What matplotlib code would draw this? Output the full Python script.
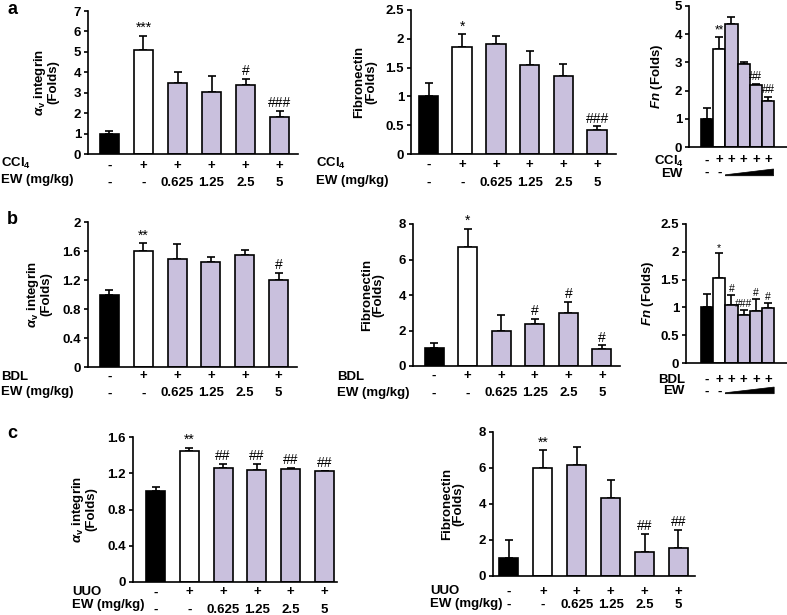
import matplotlib
matplotlib.use("Agg")
import matplotlib.pyplot as plt
from matplotlib.patches import Polygon
import matplotlib.transforms as mtransforms

plt.rcParams['font.family'] = ['Liberation Sans', 'DejaVu Sans']
plt.rcParams['font.weight'] = 'bold'
plt.rcParams['axes.labelweight'] = 'bold'
plt.rcParams['mathtext.fontset'] = 'custom'
plt.rcParams['mathtext.rm'] = 'Liberation Sans:bold'
plt.rcParams['mathtext.bf'] = 'Liberation Sans:bold'
plt.rcParams['mathtext.it'] = 'Liberation Sans:italic'
plt.rcParams['mathtext.bfit'] = 'Liberation Sans:bold:italic'

# ---- data ----
colors = ['black', 'white', '#c9c0dd', '#c9c0dd', '#c9c0dd', '#c9c0dd']
treat_plus = ['-', '+', '+', '+', '+', '+']
dose_labels = ['-', '-', '0.625', '1.25', '2.5', '5']

a_itg = [1.0, 5.1, 3.5, 3.05, 3.4, 1.83]
a_itg_err = [0.12, 0.7, 0.5, 0.75, 0.27, 0.27]
a_itg_sig = ['', '***', '', '', '#', '###']

a_fn = [1.0, 1.86, 1.91, 1.54, 1.36, 0.42]
a_fn_err = [0.24, 0.22, 0.14, 0.24, 0.2, 0.06]
a_fn_sig = ['', '*', '', '', '', '###']

a_fnm = [1.0, 3.48, 4.37, 2.93, 2.19, 1.63]
a_fnm_err = [0.4, 0.43, 0.24, 0.08, 0.04, 0.15]
a_fnm_sig = ['', '**', '', '', '##', '##']

b_itg = [1.0, 1.6, 1.49, 1.45, 1.54, 1.2]
b_itg_err = [0.06, 0.11, 0.2, 0.07, 0.08, 0.1]
b_itg_sig = ['', '**', '', '', '', '#']

b_fn = [1.0, 6.72, 1.98, 2.39, 2.96, 0.93]
b_fn_err = [0.28, 1.0, 0.88, 0.25, 0.66, 0.24]
b_fn_sig = ['', '*', '', '#', '#', '#']

b_fnm = [1.0, 1.53, 1.04, 0.87, 0.94, 0.99]
b_fnm_err = [0.25, 0.44, 0.19, 0.09, 0.21, 0.09]
b_fnm_sig = ['', '*', '#', '###', '#', '#']

c_itg = [1.0, 1.45, 1.26, 1.24, 1.25, 1.22]
c_itg_err = [0.05, 0.03, 0.04, 0.06, 0.01, 0.01]
c_itg_sig = ['', '**', '##', '##', '##', '##']

c_fn = [1.0, 6.0, 6.19, 4.32, 1.34, 1.56]
c_fn_err = [1.0, 1.0, 1.0, 1.0, 1.0, 1.0]
c_fn_sig = ['', '**', '', '', '##', '##']

W, H = 787, 615
fig = plt.figure(figsize=(W / 100, H / 100), dpi=100)
FS = 9.5


def make_ax(left, top, right, bottom):
    return fig.add_axes([left / W, 1 - bottom / H, (right - left) / W, (bottom - top) / H])


def bar_panel(box, vals, errs, sig, xlim, width, ylim, yticks, yticklabels,
              ylabel, labelpad=4, lw=1.2, sig_fs=10):
    ax = make_ax(*box)
    x = list(range(len(vals)))
    ax.bar(x, vals, width=width, color=colors, edgecolor='black', linewidth=lw, zorder=2)
    ax.errorbar(x, vals, yerr=[[0] * len(vals), errs], fmt='none', ecolor='black',
                elinewidth=1.2, capsize=2.6, capthick=1.2, zorder=1)
    for i, s in enumerate(sig):
        if s:
            ax.annotate(s, xy=(i, vals[i] + errs[i]), xytext=(0, 0.5), textcoords='offset points',
                        ha='center', va='bottom', fontsize=sig_fs, fontweight='normal')
    ax.set_xlim(*xlim)
    ax.set_ylim(*ylim)
    ax.set_yticks(yticks)
    ax.set_yticklabels(yticklabels, fontweight='bold')
    ax.set_xticks([])
    for sp in ['top', 'right']:
        ax.spines[sp].set_visible(False)
    for sp in ['left', 'bottom']:
        ax.spines[sp].set_linewidth(1.2)
    ax.tick_params(axis='y', length=3, width=1.2, labelsize=FS, pad=2)
    ax.set_ylabel(ylabel, fontsize=FS, fontweight='bold', labelpad=labelpad, linespacing=1.0)
    return ax


def row_text(ax, labels, dy):
    for i, lbl in enumerate(labels):
        if lbl:
            ax.annotate(lbl, xy=(i, 0), xycoords=('data', 'axes fraction'), xytext=(0, -dy),
                        textcoords='offset pixels', ha='center', va='center', fontsize=FS,
                        fontweight='bold')


def side_label(txt, x, y, ha='left'):
    fig.text(x / W, 1 - y / H, txt, ha=ha, va='center', fontsize=FS, fontweight='bold')


def wedge(ax, x0, x1, y_bot, y_top, y_tip):
    tr = mtransforms.blended_transform_factory(ax.transData, ax.transAxes)
    p = Polygon([[x0, y_bot], [x1, y_bot], [x1, y_top], [x0, y_tip]], closed=True,
                facecolor='black', edgecolor='black', linewidth=0.5, transform=tr, clip_on=False)
    ax.add_patch(p)


itg_label = r'$\alpha_{\rm v}$ integrin' + '\n(Folds)'
fn_label = 'Fibronectin\n(Folds)'
fnm_label = r'$\bfit{Fn}$ (Folds)'

# ---- panel a ----
ax = bar_panel((88, 11, 298, 154), a_itg, a_itg_err, a_itg_sig, (-0.63, 5.54), 0.56,
               (0, 7), range(0, 8), [str(v) for v in range(0, 8)], itg_label, labelpad=10)
row_text(ax, treat_plus, 11.5)
row_text(ax, dose_labels, 28.5)
side_label('CCl$_4$', 1, 163)
side_label('EW (mg/kg)', 1, 180)

ax = bar_panel((411, 10, 616, 154), a_fn, a_fn_err, a_fn_sig, (-0.52, 5.56), 0.58,
               (0, 2.5), [0, 0.5, 1, 1.5, 2, 2.5], ['0', '0.5', '1', '1.5', '2', '2.5'],
               fn_label, labelpad=6)
row_text(ax, treat_plus, 11)
row_text(ax, dose_labels, 28.5)
side_label('CCl$_4$', 316, 163)
side_label('EW (mg/kg)', 316, 181)

ax = bar_panel((689, 6, 787, 147), a_fnm, a_fnm_err, a_fnm_sig, (-1.48, 6.55), 1.0,
               (0, 5), range(0, 6), [str(v) for v in range(0, 6)], fnm_label, labelpad=7,
               sig_fs=8.5)
row_text(ax, treat_plus, 13.5)
row_text(ax, ['-', '-', '', '', '', ''], 26)
wedge(ax, 1.5, 5.45, -0.204, -0.156, -0.197)
side_label('CCl$_4$', 684, 161, ha='right')
side_label('EW', 682, 174, ha='right')

# ---- panel b ----
ax = bar_panel((88, 222, 297, 367), b_itg, b_itg_err, b_itg_sig, (-0.63, 5.54), 0.56,
               (0, 2), [0, 0.4, 0.8, 1.2, 1.6, 2], ['0', '0.4', '0.8', '1.2', '1.6', '2'],
               itg_label, labelpad=7)
row_text(ax, treat_plus, 9.5)
row_text(ax, dose_labels, 26.5)
side_label('BDL', 1, 377)
side_label('EW (mg/kg)', 1, 392)

ax = bar_panel((413, 224, 620, 366), b_fn, b_fn_err, b_fn_sig, (-0.63, 5.54), 0.57,
               (0, 8), [0, 2, 4, 6, 8], ['0', '2', '4', '6', '8'], fn_label, labelpad=10)
row_text(ax, treat_plus, 10)
row_text(ax, dose_labels, 27.5)
side_label('BDL', 337, 377)
side_label('EW (mg/kg)', 337, 393)

ax = bar_panel((686, 224, 787, 363), b_fnm, b_fnm_err, b_fnm_sig, (-1.72, 6.55), 1.0,
               (0, 2.5), [0, 0.5, 1, 1.5, 2, 2.5], ['0', '0.5', '1', '1.5', '2', '2.5'],
               fnm_label, labelpad=3, sig_fs=7.5)
row_text(ax, treat_plus, 16.5)
row_text(ax, ['-', '-', '', '', '', ''], 28.5)
wedge(ax, 1.5, 5.5, -0.221, -0.173, -0.214)
side_label('BDL', 685, 380, ha='right')
side_label('EW', 685, 391, ha='right')

# ---- panel c ----
ax = bar_panel((133, 437, 337, 582), c_itg, c_itg_err, c_itg_sig, (-0.67, 5.37), 0.56,
               (0, 1.6), [0, 0.4, 0.8, 1.2, 1.6], ['0', '0.4', '0.8', '1.2', '1.6'],
               itg_label, labelpad=7)
row_text(ax, treat_plus, 10.5)
row_text(ax, dose_labels, 28)
side_label('UUO', 72, 592)
side_label('EW (mg/kg)', 72, 605)

ax = bar_panel((493, 432, 695, 576), c_fn, c_fn_err, c_fn_sig, (-0.47, 5.49), 0.56,
               (0, 8), [0, 2, 4, 6, 8], ['0', '2', '4', '6', '8'], fn_label, labelpad=10)
row_text(ax, treat_plus, 15.5)
row_text(ax, dose_labels, 28.5)
side_label('UUO', 430, 591)
side_label('EW (mg/kg)', 430, 604)

# panel letters
fig.text(7 / W, 1 - 10 / H, 'a', fontsize=13, va='center', ha='left', fontweight='bold')
fig.text(7 / W, 1 - 220 / H, 'b', fontsize=13, va='center', ha='left', fontweight='bold')
fig.text(7 / W, 1 - 433 / H, 'c', fontsize=13, va='center', ha='left', fontweight='bold')

fig.savefig('out.png', dpi=100)
